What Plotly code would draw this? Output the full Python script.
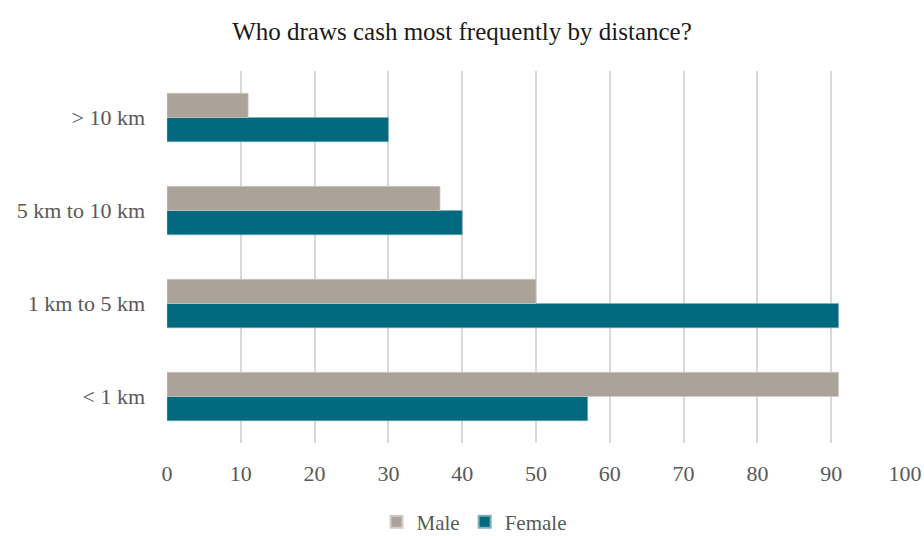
import plotly.graph_objects as go

# Distance bands (bottom to top on the chart)
categories = ["< 1 km", "1 km to 5 km", "5 km to 10 km", "> 10 km"]
male = [91, 50, 37, 11]
female = [57, 91, 40, 30]
x_ticks = list(range(0, 101, 10))

FONT = "Liberation Serif, DejaVu Serif, serif"
MALE_COLOR = "#ABA39A"
FEMALE_COLOR = "#02697E"
TEXT_GRAY = "#595959"

fig = go.Figure()
# Female trace first so that in each group Male sits above Female
fig.add_trace(go.Bar(
    y=categories, x=female, name="Female", orientation="h",
    marker=dict(color=FEMALE_COLOR, line=dict(color="#7FAFBB", width=0.6)),
))
fig.add_trace(go.Bar(
    y=categories, x=male, name="Male", orientation="h",
    marker=dict(color=MALE_COLOR, line=dict(color="#D2CCC6", width=0.6)),
))

fig.update_layout(
    width=924, height=536,
    margin=dict(l=167, r=19, t=71, b=93, autoexpand=False),
    paper_bgcolor="white", plot_bgcolor="white",
    barmode="group", bargap=0.478, bargroupgap=0,
    title=dict(
        text="Who draws cash most frequently by distance?",
        x=0.5, xref="container", xanchor="center",
        y=1 - 31 / 536, yref="container", yanchor="middle",
        font=dict(family=FONT, size=25, color="#1a1a1a"),
    ),
    font=dict(family=FONT, size=22, color=TEXT_GRAY),
    legend=dict(
        orientation="h", x=474 / 924, xref="container", xanchor="center",
        y=1 - 522 / 536, yref="container", yanchor="middle",
        traceorder="reversed", font=dict(family=FONT, size=21, color=TEXT_GRAY),
        itemwidth=30, itemsizing="constant",
    ),
    xaxis=dict(
        range=[0, 100], tickvals=x_ticks, showgrid=True, gridcolor="#D9D9D9",
        gridwidth=1.5, zeroline=False, showline=False, ticks="",
        ticklabelstandoff=15, automargin=False,
        tickfont=dict(family=FONT, size=22, color=TEXT_GRAY),
    ),
    yaxis=dict(
        categoryorder="array", categoryarray=categories,
        showgrid=False, zeroline=False, showline=False, ticks="",
        ticklabelstandoff=21, automargin=False,
        tickfont=dict(family=FONT, size=22, color=TEXT_GRAY),
    ),
)

fig.write_html("out.html")
